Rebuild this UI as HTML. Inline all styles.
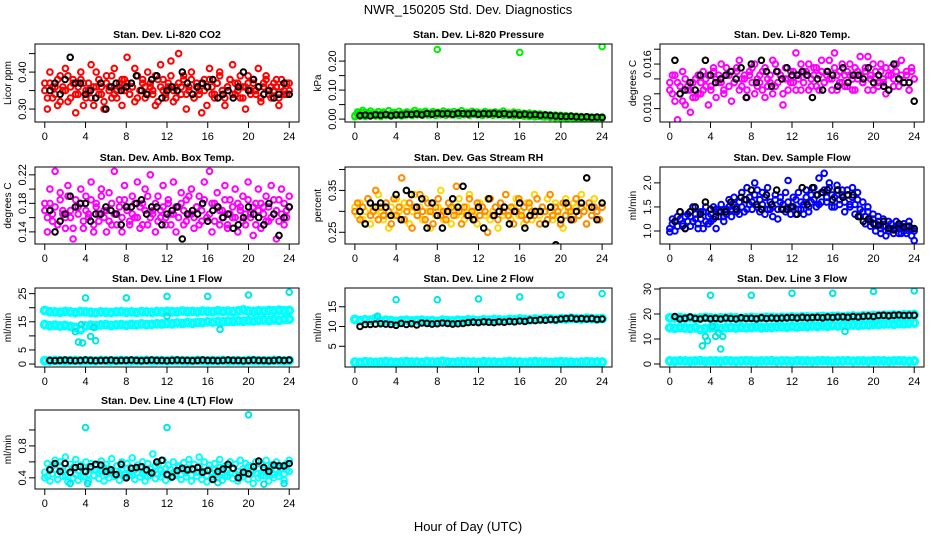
<!DOCTYPE html>
<html><head><meta charset="utf-8">
<style>
html,body{margin:0;padding:0;background:#fff;}
svg{display:block;font-family:"Liberation Sans",Arial,sans-serif;}
</style></head>
<body>
<svg id="chart" width="936" height="540" viewBox="0 0 936 540" xmlns="http://www.w3.org/2000/svg">
<rect x="0" y="0" width="936" height="540" fill="#fff"/>
<text x="468" y="14" text-anchor="middle" font-size="13">NWR_150205  Std. Dev. Diagnostics</text>
<text x="468" y="531" text-anchor="middle" font-size="13">Hour of Day (UTC)</text>
</svg>
<script>
// ---------- data ----------
const xTicks=[0,4,8,12,16,20,24];
const co2Red1=[.35,.33,.37,.36,.34,.38,.32,.36,.35,.39,.33,.37,.34,.36,.38,.31,.35,.37,.33,.36,.40,.34,.36,.32,.37,.35,.39,.34,.33,.36,.38,.35,.37,.34,.36,.41,.33,.35,.38,.36,.34,.37,.35,.39,.32,.36,.38,.34,.36,.43,.35,.33,.37,.36,.39,.34,.35,.38,.33,.36,.34,.37,.35,.31,.38,.36,.34,.37,.40,.35,.33,.36,.38,.34,.37,.35,.39,.33,.36,.37,.34,.38,.35,.36,.33,.37,.39,.34,.36,.35,.38,.33,.36,.34,.37,.35];
const co2Red2=[.37,.30,.40,.33,.36,.31,.39,.35,.41,.32,.36,.38,.29,.34,.40,.37,.33,.35,.42,.31,.36,.38,.34,.30,.39,.36,.33,.41,.35,.37,.31,.38,.44,.34,.36,.32,.39,.35,.37,.33,.40,.36,.34,.31,.38,.42,.35,.33,.37,.39,.32,.36,.45,.34,.38,.30,.36,.40,.33,.37,.35,.29,.38,.36,.41,.34,.33,.37,.39,.35,.31,.36,.38,.42,.34,.37,.33,.36,.30,.39,.35,.37,.34,.41,.32,.36,.38,.35,.33,.37,.36,.31,.38,.35,.34,.37];
const co2Black=[.35,.37,.34,.38,.44,.37,.37,.34,.35,.33,.37,.30,.36,.37,.35,.36,.37,.39,.35,.34,.38,.39,.33,.35,.36,.35,.40,.37,.34,.36,.37,.36,.38,.33,.34,.35,.33,.36,.40,.35,.38,.36,.34,.35,.33,.34,.37,.34];
const presGreen1=[.012,.025,.018,.03,.015,.022,.028,.013,.02,.026,.017,.024,.014,.029,.019,.023,.016,.027,.021,.013,.025,.018,.022,.03,.016,.024,.019,.027,.014,.021,.026,.018,.023,.017,.028,.02,.024,.015,.026,.019,.022,.029,.017,.023,.02,.027,.016,.024,.021,.018,.026,.019,.023,.015,.025,.02,.022,.028,.017,.021,.019,.024,.016,.022,.018,.02,.015,.021,.017,.019,.013,.018,.014,.016,.012,.015,.011,.014,.009,.013,.01,.012,.008,.011,.007,.01,.006,.009,.005,.008,.006,.007,.004,.006,.005,.007];
const presGreen2=[.008,.018,.01,.022,.009,.016,.012,.02,.011,.017,.009,.021,.012,.015,.01,.019,.013,.016,.011,.02,.014,.017,.012,.021,.015,.018,.013,.02,.016,.014,.019,.012,.017,.015,.02,.013,.018,.016,.014,.019,.012,.017,.015,.02,.013,.016,.018,.014,.017,.012,.019,.015,.016,.013,.018,.014,.017,.012,.016,.013,.015,.011,.014,.012,.013,.01,.012,.009,.011,.008,.01,.009,.008,.007,.009,.006,.008,.005,.007,.004,.006,.005,.004,.006,.003,.005,.004,.003,.005,.003,.004,.002,.003,.004,.002,.003];
const presOutHour=[8,16,24];
const presOutVal=[.24,.23,.25];
const presBlack=[.012,.014,.011,.015,.013,.016,.012,.015,.014,.017,.016,.018,.015,.019,.017,.02,.018,.019,.017,.02,.019,.018,.02,.017,.019,.018,.02,.017,.019,.016,.018,.015,.017,.014,.016,.013,.014,.012,.011,.01,.009,.01,.008,.007,.008,.006,.007,.006];
const tempMag1=[.0125,.0145,.011,.0135,.012,.015,.0105,.013,.0125,.0115,.014,.012,.0135,.015,.013,.0145,.0125,.0155,.014,.0135,.016,.0125,.0145,.013,.015,.0135,.0155,.0125,.014,.0145,.0115,.015,.0135,.016,.013,.0145,.0125,.0155,.014,.0135,.0165,.013,.015,.0145,.012,.0155,.014,.0135,.015,.0125,.0145,.016,.0135,.015,.0125,.014,.0155,.013,.0145,.0165,.0135,.015,.014,.0125,.0155,.0145,.0135,.016,.013,.015,.0145,.0125,.0155,.014,.017,.0135,.015,.0125,.0145,.016,.014,.013,.015,.0135,.0155,.0125,.0145,.014,.016,.013,.0145,.0135,.015,.0125,.0155,.014];
const tempMag2=[.0135,.012,.0145,.0085,.013,.011,.014,.0125,.0095,.0135,.0115,.0145,.012,.0125,.014,.0105,.013,.015,.0115,.0145,.0135,.012,.0155,.0145,.011,.0135,.015,.0165,.013,.014,.0125,.0145,.0155,.012,.014,.0135,.015,.0115,.013,.0145,.012,.016,.0135,.0145,.0105,.014,.0125,.015,.0135,.0175,.014,.0125,.015,.0145,.016,.013,.0145,.0155,.0125,.015,.0135,.0145,.0165,.014,.0175,.0125,.015,.0135,.0145,.013,.016,.014,.0125,.015,.0145,.0135,.0155,.017,.014,.0125,.015,.0135,.016,.014,.012,.0145,.0155,.013,.015,.014,.0165,.0135,.0145,.0125,.015,.014];
const tempBlack=[.0165,.012,.0125,.0135,.0125,.0145,.0165,.0145,.0135,.014,.0145,.015,.014,.0155,.0115,.016,.0135,.0165,.015,.013,.015,.014,.0155,.0145,.0145,.015,.0145,.0115,.014,.0125,.015,.0145,.013,.0155,.0135,.0145,.0145,.014,.0155,.0135,.0145,.013,.0125,.016,.014,.0135,.0135,.011];
const ambMag1=[.17,.16,.18,.155,.175,.15,.185,.165,.16,.19,.17,.145,.175,.165,.18,.155,.17,.16,.185,.15,.175,.165,.19,.16,.17,.155,.18,.165,.15,.175,.16,.185,.17,.155,.165,.18,.16,.175,.15,.17,.19,.16,.165,.18,.155,.17,.175,.16,.185,.15,.165,.175,.16,.18,.17,.155,.19,.165,.16,.175,.15,.17,.185,.16,.165,.18,.155,.175,.17,.16,.185,.15,.165,.175,.16,.18,.17,.155,.165,.185,.16,.175,.15,.17,.18,.165,.155,.175,.16,.185,.17,.155,.165,.18,.16,.175];
const ambMag2=[.18,.14,.2,.165,.225,.15,.195,.17,.145,.205,.16,.13,.185,.175,.2,.145,.19,.165,.21,.14,.18,.155,.2,.17,.14,.195,.15,.225,.165,.185,.14,.205,.175,.15,.19,.16,.21,.145,.18,.2,.15,.22,.17,.14,.19,.16,.205,.15,.18,.165,.21,.14,.175,.195,.15,.185,.165,.2,.145,.175,.19,.155,.21,.16,.225,.14,.18,.195,.15,.17,.205,.145,.185,.16,.2,.14,.175,.19,.15,.21,.165,.135,.18,.2,.145,.175,.19,.155,.205,.165,.13,.185,.2,.15,.17,.19];
const ambBlack=[.17,.14,.155,.165,.19,.175,.18,.18,.155,.165,.165,.175,.17,.165,.15,.175,.175,.18,.185,.165,.175,.175,.15,.165,.17,.175,.13,.165,.17,.165,.18,.155,.17,.175,.16,.165,.145,.15,.16,.175,.165,.16,.15,.18,.165,.135,.16,.175];
const rhYellow=[.31,.29,.32,.28,.30,.33,.27,.31,.29,.34,.30,.28,.32,.26,.31,.29,.33,.30,.28,.32,.31,.27,.30,.34,.29,.31,.28,.33,.30,.26,.32,.29,.31,.35,.28,.30,.32,.27,.31,.29,.33,.30,.28,.31,.34,.29,.30,.27,.32,.31,.29,.33,.28,.30,.31,.26,.32,.29,.34,.30,.28,.31,.33,.29,.30,.27,.32,.31,.28,.34,.30,.29,.31,.27,.33,.30,.28,.32,.29,.31,.26,.33,.30,.28,.32,.31,.29,.34,.30,.27,.31,.29,.33,.30,.28,.32];
const rhRed=[.30,.32,.28,.31,.27,.33,.29,.30,.35,.28,.31,.29,.32,.30,.27,.33,.29,.31,.38,.28,.30,.32,.26,.31,.29,.34,.30,.28,.32,.30,.27,.31,.33,.29,.30,.28,.32,.31,.29,.36,.30,.27,.31,.29,.33,.30,.28,.32,.29,.31,.30,.25,.33,.29,.31,.28,.32,.30,.34,.29,.31,.27,.30,.33,.29,.31,.28,.32,.30,.29,.33,.27,.31,.30,.28,.34,.29,.31,.30,.27,.32,.29,.31,.30,.28,.33,.29,.31,.30,.27,.32,.29,.31,.30,.28,.31];
const rhBlack=[.30,.27,.32,.31,.32,.31,.29,.34,.28,.35,.34,.31,.33,.26,.32,.29,.26,.30,.33,.31,.36,.29,.28,.31,.26,.33,.29,.30,.31,.27,.30,.32,.26,.29,.30,.30,.27,.31,.22,.28,.32,.28,.30,.32,.38,.31,.28,.32];
const flowBlue1=[1.05,1.15,1.2,1.1,1.25,1.15,1.3,1.2,1.3,1.2,1.35,1.15,1.25,1.4,1.2,1.3,1.35,1.25,1.45,1.3,1.4,1.3,1.45,1.5,1.45,1.55,1.4,1.6,1.5,1.65,1.45,1.7,1.6,1.75,1.5,1.65,1.55,1.7,1.45,1.6,1.5,1.65,1.45,1.6,1.55,1.4,1.6,1.5,1.5,1.65,1.45,1.6,1.55,1.7,1.5,1.6,1.65,1.75,1.55,1.8,1.85,1.7,1.9,1.75,1.7,1.85,1.65,1.75,1.6,1.75,1.55,1.7,1.55,1.65,1.45,1.4,1.3,1.4,1.2,1.25,1.15,1.2,1.05,1.1,1.1,1.0,1.15,1.05,1.05,1.1,.95,1.0,1.1,1.0,1.05,1.0];
const flowBlue2=[.98,1.25,1.0,1.3,1.4,1.1,1.05,1.35,1.1,1.5,1.25,1.05,1.4,1.05,1.5,1.15,1.2,1.5,1.05,1.4,1.55,1.2,1.35,1.65,1.3,1.7,1.5,1.35,1.8,1.4,1.9,1.55,1.45,2.0,1.85,1.4,1.8,1.35,1.9,1.45,1.3,1.75,1.25,1.7,1.45,1.8,2.05,1.35,1.7,1.35,1.8,1.45,1.35,1.85,1.4,1.75,1.9,1.5,2.1,1.6,2.2,1.6,2.0,1.5,1.5,1.95,1.55,1.85,1.4,1.85,1.5,1.9,1.35,1.8,1.3,1.6,1.15,1.5,1.1,1.35,1.0,1.3,.95,1.25,.9,1.2,1.05,.95,1.2,.95,1.1,1.15,.95,1.2,.9,.8];
const flowBlack=[1.2,1.4,1.05,1.4,1.5,1.35,1.6,1.45,1.3,1.4,1.4,1.6,1.45,1.7,1.65,1.85,1.55,1.45,1.75,1.55,1.85,1.45,1.45,1.5,1.35,1.9,1.55,1.9,1.75,1.8,1.85,1.65,1.85,1.7,1.75,1.75,1.3,1.2,1.25,1.15,1.12,1.2,1.05,1.02,1.15,1.08,1.1,1.05];
const l1Upper=[19,18.6,18.5,18.4,18.7,18.5,18.3,18.6,18.5,18.4,18.2,18.5,18.4,18.3,18.5,18.6,18.4,18.5,18.3,18.6,18.5,18.4,18.6,18.5,18.7,18.6,18.5,18.8,18.6,18.7,18.5,18.8,18.7,18.6,18.9,18.7,18.8,18.6,18.9,19.2,18.8,18.7,18.9,18.8,19,18.9,19.1,18.9,19];
const l1Mid=[14,13.6,13.8,13.5,13.7,13.4,13,12.2,13.5,13.8,13.6,13.9,14,13.7,13.9,14,13.8,14.1,13.9,14.2,14,14.1,14.3,14.2,14.5,14.3,14.6,14.4,14.7,14.5,14.8,14.7,15,14.9,15.1,15,15.2,15.1,15.3,15.2,15.4,15.3,15.5,15.6,15.4,15.7,15.5,15.8,15.9];
const l1Low=[1.2,1.1,1.3,1.2,1.1,1.2,1.3,1.1,1.2,1.2,1.1,1.3,1.2,1.1,1.2,1.3,1.2,1.1,1.2,1.2,1.3,1.1,1.2,1.2,1.1,1.3,1.2,1.2,1.1,1.2,1.3,1.2,1.1,1.2,1.2,1.3,1.1,1.2,1.2,1.1,1.3,1.2,1.2,1.1,1.2,1.3,1.2,1.1,1.2];
const l1OutHour=[4,8,12,16,20,24,3.3,3.7,4.5,5,17.2,12,3,3.6,4.8];
const l1OutVal=[23.5,23.5,24,24,24.5,25.5,7.8,7.5,9.8,8.3,12.3,17,11.5,14,13];
const l1Black=[1.3,1.2,1.3,1.4,1.3,1.2,1.3,1.4,1.3,1.2,1.3,1.3,1.4,1.2,1.3,1.3,1.4,1.3,1.2,1.3,1.4,1.3,1.3,1.2,1.3,1.4,1.3,1.3,1.2,1.3,1.4,1.3,1.3,1.2,1.3,1.4,1.3,1.3,1.2,1.3,1.4,1.3,1.3,1.2,1.3,1.4,1.3,1.4];
const l2Upper=[11.8,11.5,11.7,11.6,12,11.4,11.6,11.5,11.3,11.5,11.6,11.4,11.5,11.6,11.4,11.5,11.3,11.6,11.5,11.4,11.6,11.5,11.7,11.6,11.5,11.7,11.6,11.8,11.7,11.6,11.8,11.7,11.9,11.8,11.7,11.9,11.8,12,11.9,11.8,12,11.9,12.1,12,11.9,12.1,12,11.9,12];
const l2Low=[1,.9,1.1,1,.9,1,1.1,1,.9,1,1.1,1,1,.9,1.1,1,1,1.2,1,.9,1,1.1,1,1,.9,1.1,1,1,.9,1,1.1,1,1,.9,1,1.1,1,1,.9,1,1.1,1,1,.9,1,1.1,1,1,1];
const l2OutHour=[4,8,12,16,20,24,2.2];
const l2OutVal=[16.8,16.8,17,17.5,18,18.3,12.6];
const l2Black=[10,10.5,10.5,10.6,10.7,10.6,10.5,10.3,10.8,10.5,10.7,10.4,10.9,10.8,10.6,10.7,10.9,10.8,10.6,10.7,10.8,11,11.1,11,11.2,11.1,11,11.2,11.1,11.3,11.2,11.4,11.3,11.6,11.5,11.7,11.6,11.8,11.7,11.9,12,12.1,11.9,12,11.9,12,11.8,11.9];
const l3Upper=[18.5,18.4,18.6,18.3,18.5,18.2,18.4,18.6,18.5,18.3,18.5,18.4,18.6,18.5,18.3,18.5,18.6,18.4,18.5,18.7,18.6,18.5,18.7,18.6,18.8,18.7,18.9,18.8,18.7,18.9,19,18.8,19,19.1,18.9,19.1,19.2,19,19.3,19.2,19.4,19.3,19.5,19.4,19.6,19.5,19.7,19.6,19.8];
const l3Mid=[14.5,14.3,14.6,14.4,14.2,14.5,13.8,14.2,14.5,14.6,14.3,14.5,14.6,14.4,14.7,14.5,14.6,14.8,14.5,14.7,14.6,14.8,14.9,14.7,15,14.8,15.1,14.9,15.2,15,15.3,15.1,15.4,15.2,15.5,15.4,15.6,15.5,15.7,15.6,15.9,15.8,16,16.1,15.9,16.2,16.1,16.3,16.4];
const l3Low=[1.2,1.1,1.3,1.2,1.1,1.2,1.3,1.1,1.2,1.2,1.1,1.3,1.2,1.1,1.2,1.3,1.2,1.1,1.2,1.2,1.3,1.1,1.2,1.2,1.1,1.3,1.2,1.2,1.1,1.2,1.3,1.2,1.1,1.2,1.2,1.3,1.1,1.2,1.2,1.1,1.3,1.2,1.2,1.1,1.2,1.3,1.2,1.1,1.2];
const l3OutHour=[4,8,12,16,20,24,3.2,3.5,3.7,4.5,5,5.2,17.2,4.2,4.8];
const l3OutVal=[27.5,27.5,28.3,28.3,29,29.3,7.3,11,9.3,11,6,11,13,15,12.5];
const l3Black=[19,18,18.3,18.8,18.2,18,18.4,18.1,18.3,18,18.4,18.2,18,18.5,18.2,18.3,18.1,18.5,18.2,18.4,18.3,18.4,18.5,18.6,18.4,18.7,18.5,18.6,18.7,18.5,18.8,18.6,18.8,18.9,18.7,19,18.8,19.1,19.2,19,19.4,19.5,19.3,19.5,19.6,19.4,19.5,19.5];
const l4Cyan1=[.47,.42,.52,.45,.5,.44,.55,.48,.43,.51,.46,.53,.44,.49,.42,.54,.47,.45,.52,.43,.5,.46,.48,.53,.44,.51,.47,.42,.55,.46,.49,.44,.52,.47,.43,.5,.46,.53,.45,.48,.42,.51,.47,.55,.44,.49,.46,.52,.43,.5,.47,.45,.53,.44,.49,.46,.52,.43,.5,.47,.54,.45,.48,.43,.51,.46,.5,.44,.53,.47,.42,.49,.46,.52,.45,.48,.43,.51,.47,.54,.44,.49,.46,.52,.43,.5,.47,.45,.53,.44,.49,.46,.52,.45,.5,.48];
const l4Cyan2=[.4,.58,.36,.55,.62,.38,.6,.42,.66,.35,.57,.4,.63,.37,.56,.41,.6,.36,.58,.43,.55,.39,.61,.36,.57,.4,.64,.42,.55,.37,.6,.4,.58,.43,.65,.38,.56,.41,.6,.36,.58,.43,.7,.39,.57,.41,.62,.37,.56,.4,.6,.43,.55,.38,.59,.41,.63,.36,.57,.42,.66,.38,.6,.35,.56,.41,.58,.4,.63,.37,.55,.42,.6,.39,.57,.36,.62,.41,.58,.38,.55,.33,.6,.4,.57,.43,.62,.36,.56,.4,.6,.42,.55,.37,.58,.62];
const l4OutHour=[4,12,20,2.5,4.2,21.5,17,23.5];
const l4OutVal=[1.03,1.03,1.19,.33,.33,.32,.34,.33];
const l4Black=[.5,.58,.48,.58,.47,.53,.54,.48,.54,.57,.56,.48,.5,.44,.57,.4,.52,.53,.54,.5,.46,.6,.62,.44,.41,.49,.52,.5,.51,.53,.47,.49,.38,.48,.51,.57,.52,.4,.47,.45,.54,.61,.53,.48,.56,.55,.55,.58];

// ---------- layout ----------
const NS="http://www.w3.org/2000/svg";
const svg=document.getElementById('chart');
const colX=[[35,299],[345,612],[660,924]];
const rowY=[[44,122],[167,244],[288,367],[410,489]];
function mk(tag,attrs,parent){const e=document.createElementNS(NS,tag);for(const k in attrs)e.setAttribute(k,attrs[k]);(parent||svg).appendChild(e);return e;}

const panels=[
 {key:'co2',col:0,row:0,title:'Stan. Dev. Li-820 CO2',ylab:'Licor ppm',ymin:.265,ymax:.476,ticks:[.30,.35,.40,.45],labels:['0.30','','0.40',''],
  series:[{name:'co2-red-a',c:'#ff0000',v:co2Red1},{name:'co2-red-b',c:'#ff0000',v:co2Red2},{name:'co2-black',c:'#000',v:co2Black,black:1}]},
 {key:'pressure',col:1,row:0,title:'Stan. Dev. Li-820 Pressure',ylab:'kPa',ymin:-.01,ymax:.259,ticks:[0,.05,.1,.15,.2],labels:['0.00','','0.10','','0.20'],
  series:[{name:'pressure-green-a',c:'#00ee00',v:presGreen1},{name:'pressure-green-b',c:'#00ee00',v:presGreen2},{name:'pressure-green-outliers',c:'#00ee00',h:presOutHour,v:presOutVal},{name:'pressure-black',c:'#000',v:presBlack,black:1}]},
 {key:'li820-temp',col:2,row:0,title:'Stan. Dev. Li-820 Temp.',ylab:'degrees C',ymin:.0082,ymax:.0187,ticks:[.010,.012,.014,.016,.018],labels:['0.010','','','0.016',''],
  series:[{name:'temp-magenta-a',c:'#ff00ff',v:tempMag1},{name:'temp-magenta-b',c:'#ff00ff',v:tempMag2},{name:'temp-black',c:'#000',v:tempBlack,black:1}]},
 {key:'amb-temp',col:0,row:1,title:'Stan. Dev. Amb. Box Temp.',ylab:'degrees C',ymin:.123,ymax:.231,ticks:[.14,.16,.18,.20,.22],labels:['0.14','','0.18','','0.22'],
  series:[{name:'amb-magenta-a',c:'#ff00ff',v:ambMag1},{name:'amb-magenta-b',c:'#ff00ff',v:ambMag2},{name:'amb-black',c:'#000',v:ambBlack,black:1}]},
 {key:'rh',col:1,row:1,title:'Stan. Dev. Gas Stream RH',ylab:'percent',ymin:.222,ymax:.406,ticks:[.25,.30,.35,.40],labels:['0.25','','0.35',''],
  series:[{name:'rh-yellow',c:'#ffd700',v:rhYellow},{name:'rh-red',c:'#ff8c00',v:rhRed},{name:'rh-black',c:'#000',v:rhBlack,black:1}]},
 {key:'sample-flow',col:2,row:1,title:'Stan. Dev. Sample Flow',ylab:'ml/min',ymin:.73,ymax:2.33,ticks:[1,1.5,2],labels:['1.0','1.5','2.0'],
  series:[{name:'flow-blue-a',c:'#0000ff',v:flowBlue1},{name:'flow-blue-b',c:'#0000ff',v:flowBlue2},{name:'flow-black',c:'#000',v:flowBlack,black:1}]},
 {key:'line1',col:0,row:2,title:'Stan. Dev. Line 1 Flow',ylab:'ml/min',ymin:-1.05,ymax:27,ticks:[0,5,10,15,20,25],labels:['0','5','','15','','25'],
  series:[{name:'line1-upper',c:'#00ffff',v:l1Upper,band:1},{name:'line1-mid',c:'#00ffff',v:l1Mid,band:1},{name:'line1-low',c:'#00ffff',v:l1Low,band:1},{name:'line1-outliers',c:'#00e5e5',h:l1OutHour,v:l1OutVal},{name:'line1-black',c:'#000',v:l1Black,black:1}]},
 {key:'line2',col:1,row:2,title:'Stan. Dev. Line 2 Flow',ylab:'ml/min',ymin:-.25,ymax:19.75,ticks:[5,10,15],labels:['5','10','15'],
  series:[{name:'line2-upper',c:'#00ffff',v:l2Upper,band:1},{name:'line2-low',c:'#00ffff',v:l2Low,band:1},{name:'line2-outliers',c:'#00e5e5',h:l2OutHour,v:l2OutVal},{name:'line2-black',c:'#000',v:l2Black,black:1}]},
 {key:'line3',col:2,row:2,title:'Stan. Dev. Line 3 Flow',ylab:'ml/min',ymin:-1.2,ymax:30.4,ticks:[0,10,20,30],labels:['0','10','20','30'],
  series:[{name:'line3-upper',c:'#00ffff',v:l3Upper,band:1},{name:'line3-mid',c:'#00ffff',v:l3Mid,band:1},{name:'line3-low',c:'#00ffff',v:l3Low,band:1},{name:'line3-outliers',c:'#00e5e5',h:l3OutHour,v:l3OutVal},{name:'line3-black',c:'#000',v:l3Black,black:1}]},
 {key:'line4',col:0,row:3,title:'Stan. Dev. Line 4 (LT) Flow',ylab:'ml/min',ymin:.26,ymax:1.25,ticks:[.4,.6,.8,1.0],labels:['0.4','','0.8',''],
  series:[{name:'line4-cyan-a',c:'#00ffff',v:l4Cyan1},{name:'line4-cyan-b',c:'#00ffff',v:l4Cyan2},{name:'line4-outliers',c:'#00e5e5',h:l4OutHour,v:l4OutVal},{name:'line4-black',c:'#000',v:l4Black,black:1}]}
];

panels.forEach(p=>{
  const [x0,x1]=colX[p.col],[y0,y1]=rowY[p.row];
  const g=mk('g',{});
  
  
  const xs=h=>x0+(h+0.96)/25.92*(x1-x0);
  const ys=v=>y1-(v-p.ymin)/(p.ymax-p.ymin)*(y1-y0);
  const t=mk('text',{x:(x0+x1)/2,y:y0-6,'text-anchor':'middle','font-size':'10.5','font-weight':'bold'},g);
  t.textContent=p.title;
  
  
  const cp=mk('clipPath',{id:'clip-'+p.key},g);
  mk('rect',{x:x0,y:y0,width:x1-x0,height:y1-y0},cp);
  const pts=mk('g',{'clip-path':'url(#clip-'+p.key+')'},g);
  
  
  p.series.forEach(s=>{
    const sg=mk('g',{fill:'none',stroke:s.c,'stroke-width':s.band?3.5:2},pts);
    
    
    const n=s.v.length;
    s.v.forEach((v,i)=>{
      let h;
      if(s.h) h=s.h[i];
      else if(s.black) h=0.5+i*23.5/(n-1);
      else h=i*24/(n-1);
      const c=mk('circle',{cx:xs(h).toFixed(1),cy:ys(v).toFixed(1),r:s.band?3.2:2.8},sg);
      
      
    });
  });
  const box=mk('rect',{x:x0,y:y0,width:x1-x0,height:y1-y0,fill:'none',stroke:'#000','stroke-width':1},g);
  
  
  xTicks.forEach(h=>{
    const X=xs(h);
    mk('line',{x1:X,y1:y1,x2:X,y2:y1+6,stroke:'#000'},g);
    const tl=mk('text',{x:X,y:y1+18,'text-anchor':'middle','font-size':'11'},g);
    tl.textContent=h;
    
    
  });
  p.ticks.forEach((v,i)=>{
    const Y=ys(v);
    if(Y<y0-1||Y>y1+1)return;
    mk('line',{x1:x0-6,y1:Y,x2:x0,y2:Y,stroke:'#000'},g);
    if(p.labels[i]){
      const tl=mk('text',{x:0,y:0,'text-anchor':'middle','font-size':'11',transform:`translate(${x0-9},${Y}) rotate(-90)`},g);
      tl.textContent=p.labels[i];
      
      
    }
  });
  const yl=mk('text',{x:0,y:0,'text-anchor':'middle','font-size':'10',transform:`translate(${x0-24},${(y0+y1)/2}) rotate(-90)`},g);
  yl.textContent=p.ylab;
  
  
});
</script>
</body></html>
